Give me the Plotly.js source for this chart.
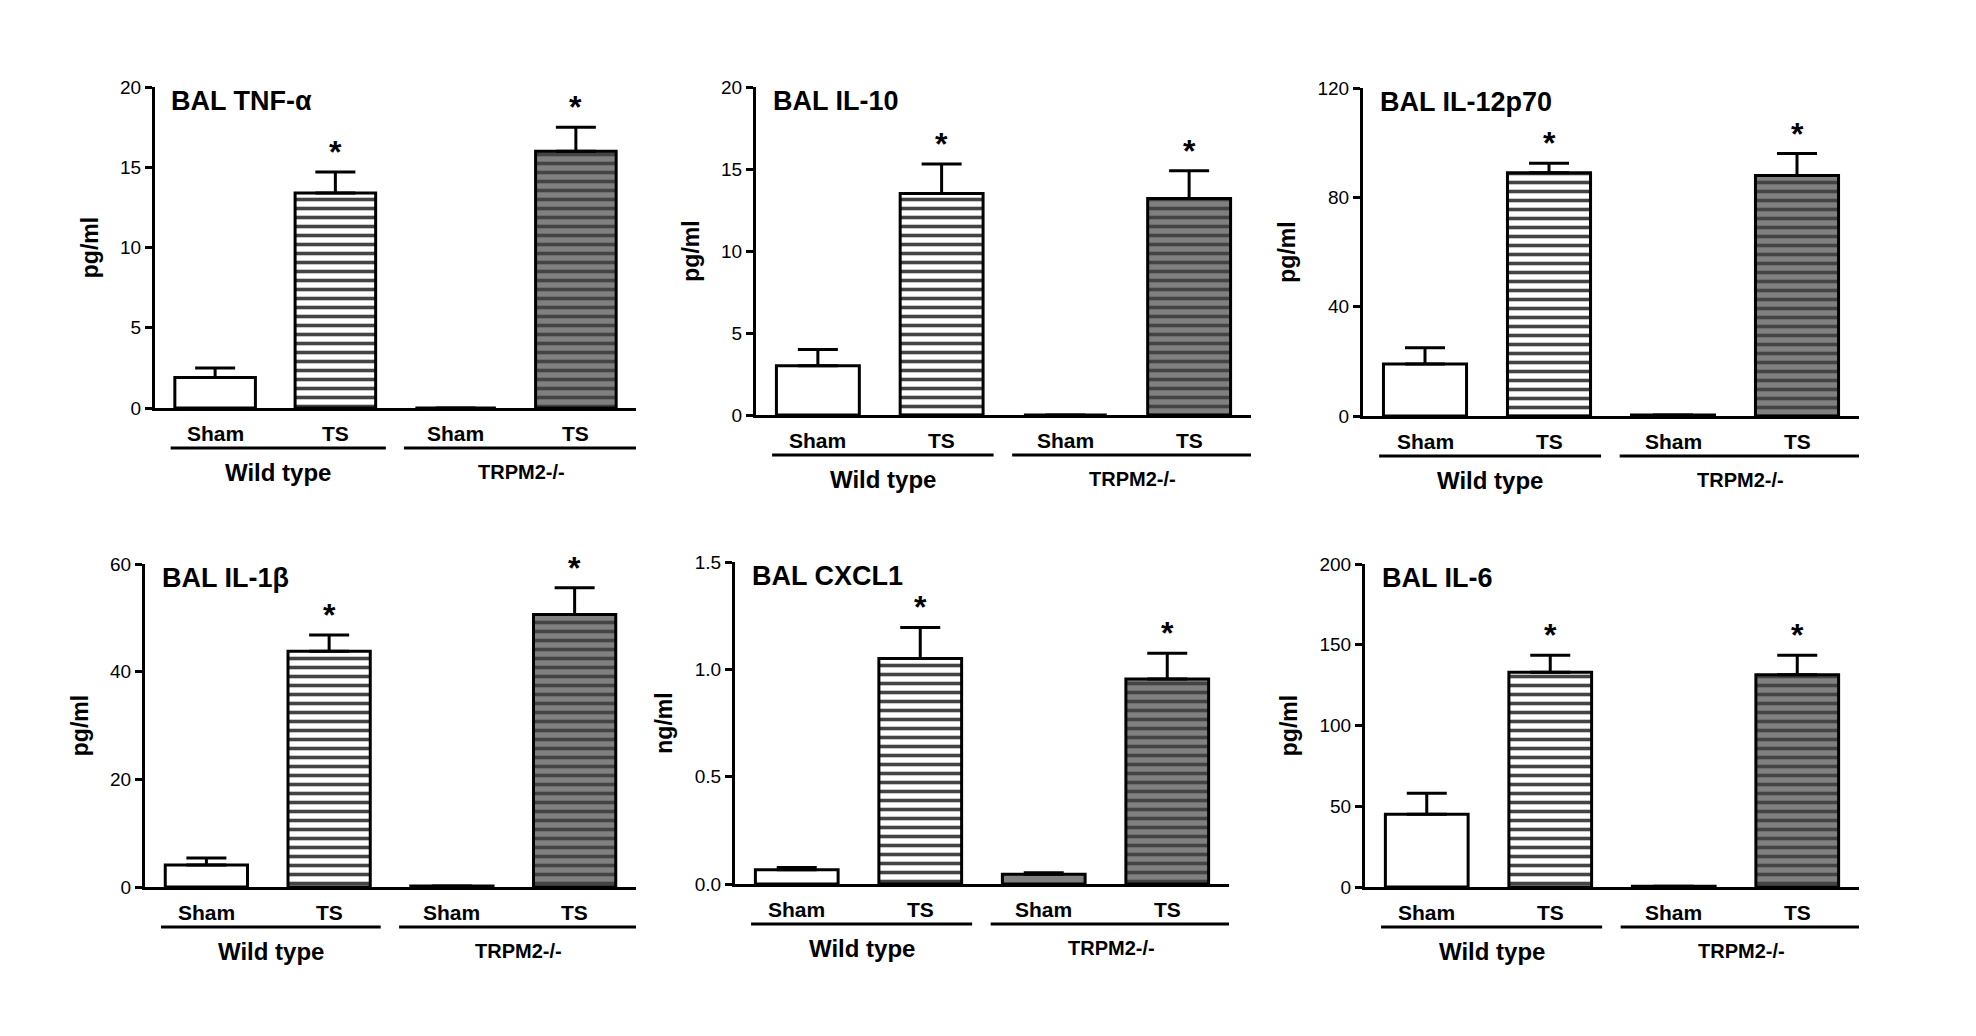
<!DOCTYPE html>
<html>
<head>
<meta charset="utf-8">
<script src="https://cdn.plot.ly/plotly-3.0.1.min.js"></script>
<style>
  html, body { margin: 0; padding: 0; background: #fff; }
  #chart { width: 1976px; height: 1036px; }
</style>
</head>
<body>
<div id="chart"></div>
<script>
// categories shared by every panel
const categories = ['Sham', 'TS', 'Sham', 'TS'];
const groupLabels = ['Wild type', 'TRPM2-/-'];

// panel titles and units
const titles = ['BAL TNF-\u03b1', 'BAL IL-10', 'BAL IL-12p70', 'BAL IL-1\u03b2', 'BAL CXCL1', 'BAL IL-6'];
const units = ['pg/ml', 'pg/ml', 'pg/ml', 'pg/ml', 'ng/ml', 'pg/ml'];

// means and upper errors (WT Sham, WT TS, KO Sham, KO TS)
const tnfMean = [1.9, 13.4, 0, 16.0];
const tnfErr = [0.6, 1.3, 0, 1.5];
const il10Mean = [3.0, 13.5, 0, 13.2];
const il10Err = [1.0, 1.8, 0, 1.7];
const il12Mean = [19, 89, 0.4, 88];
const il12Err = [6, 3.5, 0, 8];
const il1bMean = [4.1, 43.8, 0.2, 50.6];
const il1bErr = [1.3, 3.0, 0, 5.0];
const cxcl1Mean = [0.066, 1.05, 0.046, 0.955];
const cxcl1Err = [0.011, 0.145, 0.006, 0.12];
const il6Mean = [45, 133, 0.5, 131.5];
const il6Err = [13, 10.5, 0, 12];

// which bars get a significance star
const stars = [false, true, false, true];

// axis maxima and tick steps
const yMax = [20, 20, 120, 60, 1.5, 200];
const yStep = [5, 5, 40, 20, 0.5, 50];
const yFormat = ['', '', '', '', '.1f', ''];

const means = [tnfMean, il10Mean, il12Mean, il1bMean, cxcl1Mean, il6Mean];
const errs = [tnfErr, il10Err, il12Err, il1bErr, cxcl1Err, il6Err];

// panel plot boxes in pixels: [left, right, top, bottom]
const boxes = [
  [155, 636, 87, 408],
  [756, 1251, 87, 415],
  [1363, 1859, 88, 416],
  [145, 636, 564, 887],
  [735, 1229, 562, 884],
  [1365, 1859, 564, 887]
];

const W = 1976, H = 1036;
const FONT = 'Liberation Sans, Arial, sans-serif';

const fills = ['#ffffff', '#ffffff', '#808080', '#808080'];
const shapesPat = ['', '-', '', '-'];

let traces = [];
let layout = {
  width: W, height: H,
  margin: { l: 0, r: 0, t: 0, b: 0 },
  paper_bgcolor: '#fff', plot_bgcolor: 'rgba(0,0,0,0)',
  showlegend: false,
  annotations: [],
  shapes: [],
  font: { family: FONT, color: '#000' }
};

for (let p = 0; p < 6; p++) {
  let n = p + 1;
  let xa = 'x' + (n === 1 ? '' : n);
  let ya = 'y' + (n === 1 ? '' : n);
  let b = boxes[p];

  traces.push({
    type: 'bar',
    x: [0, 1, 2, 3],
    y: means[p],
    xaxis: xa, yaxis: ya,
    width: 0.67,
    marker: {
      color: fills,
      line: { color: '#000', width: 3 },
      pattern: { shape: shapesPat, fgcolor: '#000', fgopacity: 1, size: 9, solidity: 0.4, fillmode: 'overlay' }
    },
    error_y: {
      type: 'data', symmetric: false,
      array: errs[p], arrayminus: [0, 0, 0, 0],
      color: '#000', thickness: 3, width: 20
    },
    hoverinfo: 'skip'
  });

  layout['xaxis' + (n === 1 ? '' : n)] = {
    domain: [b[0] / W, b[1] / W],
    anchor: ya,
    range: [-0.5, 3.5],
    showticklabels: false, ticks: '', showgrid: false, zeroline: false,
    showline: true, linecolor: '#000', linewidth: 3, fixedrange: true
  };
  layout['yaxis' + (n === 1 ? '' : n)] = {
    domain: [1 - b[3] / H, 1 - b[2] / H],
    anchor: xa,
    range: [0, yMax[p]],
    dtick: yStep[p], tick0: 0, tickformat: yFormat[p],
    ticks: 'outside', ticklen: 7, tickwidth: 3, tickcolor: '#000',
    tickfont: { family: FONT, size: 19, color: '#000' },
    showgrid: false, zeroline: false,
    showline: true, linecolor: '#000', linewidth: 3,
    title: { text: '<b>' + units[p] + '</b>', font: { family: FONT, size: 23 }, standoff: 16 },
    fixedrange: true
  };

  // panel title
  layout.annotations.push({
    text: '<b>' + titles[p] + '</b>', xref: xa + ' domain', yref: ya + ' domain',
    x: 0.03, y: 1.01, xanchor: 'left', yanchor: 'top', showarrow: false,
    font: { family: FONT, size: 27 }
  });

  for (let i = 0; i < categories.length; i++) {
    // category labels under the axis
    layout.annotations.push({
      text: '<b>' + categories[i] + '</b>', xref: xa, yref: ya,
      x: i, y: 0, yshift: -25, yanchor: 'middle', showarrow: false,
      font: { family: FONT, size: 21 }
    });
    if (stars[i]) {
      layout.annotations.push({
        text: '<b>*</b>', xref: xa, yref: ya,
        x: i, y: means[p][i] + errs[p][i], yanchor: 'bottom', showarrow: false,
        font: { family: FONT, size: 32 }
      });
    }
  }

  // group underlines and labels (paper y, below the axis)
  let lineY = 1 - (b[3] + 40) / H;
  for (let g = 0; g < 2; g++) {
    let x0 = g === 0 ? -0.37 : 1.57;
    let x1 = g === 0 ? 1.42 : 3.52;
    layout.shapes.push({
      type: 'line', xref: xa, yref: 'paper',
      x0: x0, x1: x1, y0: lineY, y1: lineY,
      line: { color: '#000', width: 3 }
    });
    layout.annotations.push({
      text: '<b>' + groupLabels[g] + '</b>', xref: xa, yref: ya,
      x: (x0 + x1) / 2, y: 0, yshift: -64, yanchor: 'middle', showarrow: false,
      font: { family: FONT, size: g === 0 ? 24 : 20 }
    });
  }
}

Plotly.newPlot('chart', traces, layout, { staticPlot: true });
</script>
</body>
</html>
